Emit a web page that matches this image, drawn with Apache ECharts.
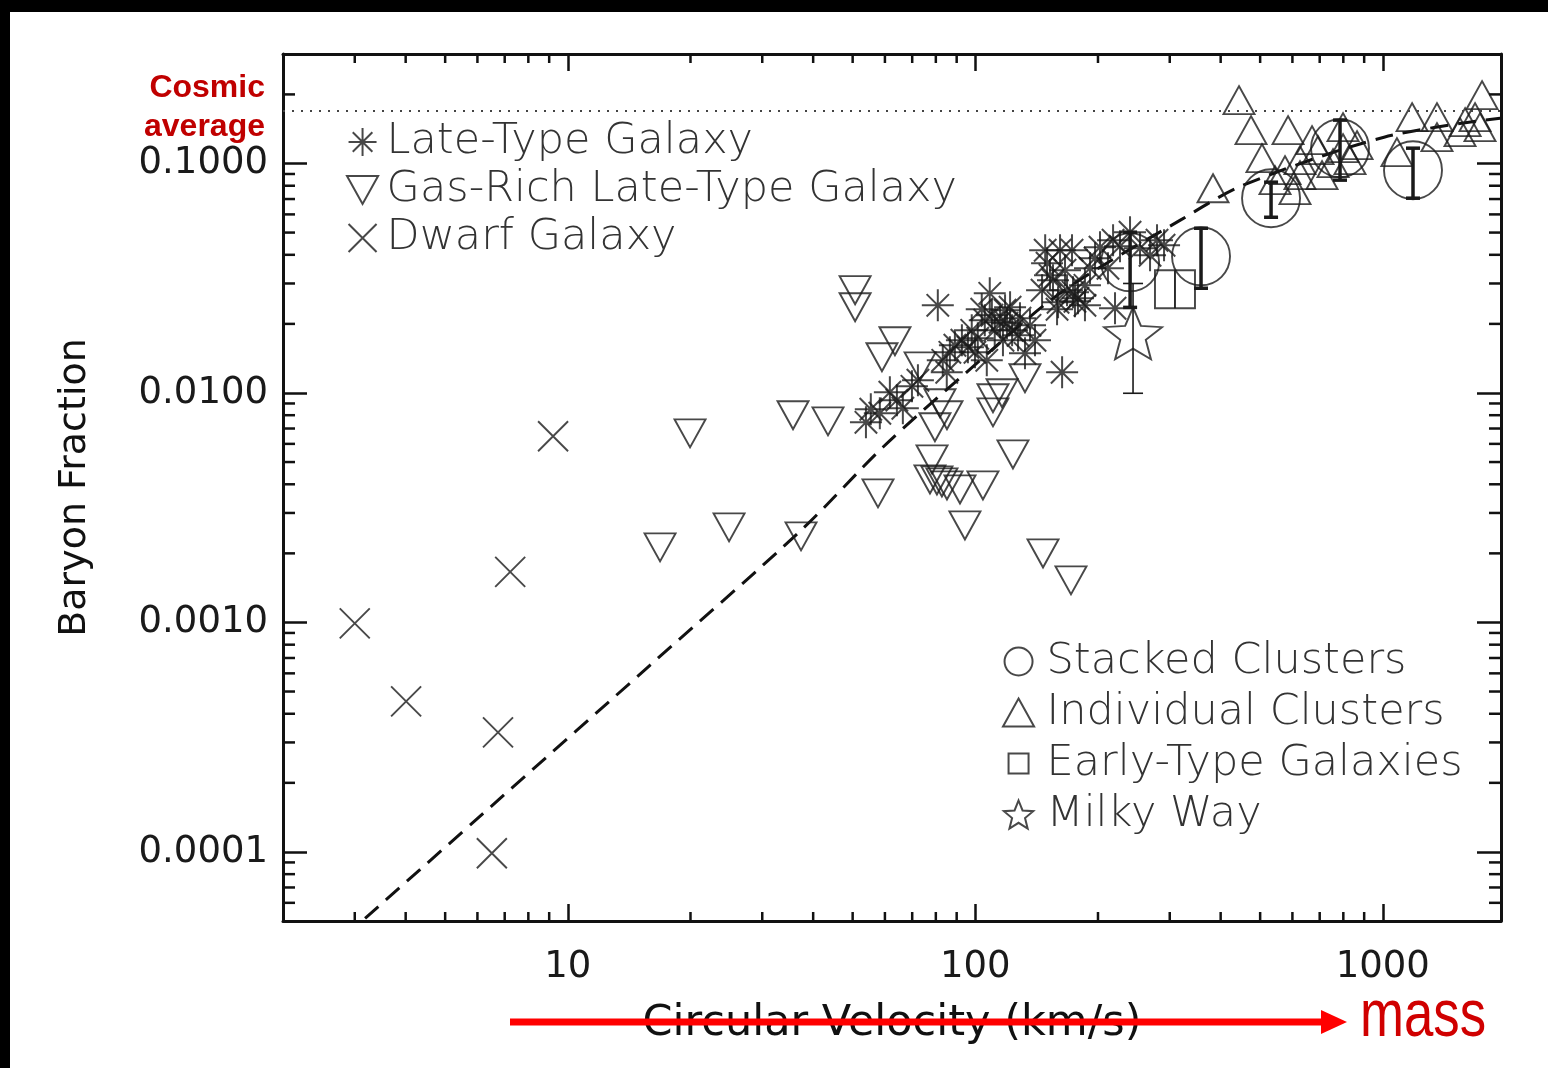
<!DOCTYPE html>
<html><head><meta charset="utf-8">
<script src="https://cdn.jsdelivr.net/npm/echarts@6/dist/echarts.min.js"></script>
<style>
html,body{margin:0;padding:0;background:#000;width:1548px;height:1068px;overflow:hidden}
#chart{position:absolute;left:10px;top:12px;width:1538px;height:1056px;background:#fff}
</style></head><body><div id="chart"></div>
<script>
// ---------- axis ranges & ticks ----------
const xRange = [2, 1950];
const yRange = [0.00005, 0.3];
const xMinorTicks = [3,4,5,6,7,8,9,20,30,40,50,60,70,80,90,200,300,400,500,600,700,800,900];
const yMinorTicks = [0.00006,0.00007,0.00008,0.00009,
  0.0002,0.0003,0.0004,0.0005,0.0006,0.0007,0.0008,0.0009,
  0.002,0.003,0.004,0.005,0.006,0.007,0.008,0.009,
  0.02,0.03,0.04,0.05,0.06,0.07,0.08,0.09,0.2];
const cosmicAverage = 0.175;

// ---------- data: [circular velocity (km/s), baryon fraction] ----------
const lateType = [
  [53.9,0.00745],[55.4,0.00849],[58.3,0.00816],[61.7,0.01007],[64.2,0.0093],[66.4,0.00858],
  [69.9,0.01069],[72.3,0.01136],[80.9,0.02409],[83.2,0.01388],[85.1,0.01231],[86.6,0.01504],
  [89.1,0.01614],[92.7,0.01697],[95.9,0.01582],[98.0,0.01875],[101.4,0.01731],[105.5,0.02074],
  [108.5,0.02718],[109.8,0.02181],[111.6,0.01875],[115.0,0.02033],[118.3,0.02293],[121.7,0.02363],
  [116.9,0.01697],[106.7,0.01388],[123.1,0.01875],[127.3,0.01783],[132.4,0.01489],[136.2,0.01972],
  [163.3,0.01231],[145.8,0.02802],[150.0,0.03675],[155.1,0.03098],[161.4,0.04187],[172.7,0.04187],
  [167.9,0.02802],[173.7,0.02746],[178.6,0.02585],[185.8,0.02409],[159.6,0.02483],[152.5,0.03257],
  [191.2,0.03495],[202.3,0.04315],[217.8,0.0463],[196.7,0.03864],[226.5,0.04358],[239.7,0.05017],
  [253.6,0.04272],[268.4,0.03982],[279.2,0.0463],[290.5,0.04402],[220.2,0.02339],[211.6,0.03495],
  [185.8,0.02946],[166.0,0.03425],[103.7,0.02316],[119.6,0.02012],[158.7,0.02316],[175.6,0.02508],
  [128.7,0.02117],[140.1,0.01697],[99.8,0.01504],[148.4,0.04187]
];
const gasRich = [
  [19.95,0.00667],[16.84,0.002125],[24.87,0.002597],[37.35,0.002373],[35.70,0.007995],[43.5,0.007526],
  [50.7,0.02804],[50.7,0.02363],[57.7,0.003654],[63.5,0.0168],[59.0,0.01431],[73.2,0.01307],
  [79.6,0.00709],[81.9,0.00902],[85.2,0.007995],[78.3,0.005134],[77.4,0.0042],[80.5,0.004158],
  [82.8,0.004076],[85.2,0.003956],[91.7,0.0038],[104.4,0.003956],[94.3,0.002647],[110.5,0.009482],
  [110.5,0.008237],[116.3,0.00997],[132.4,0.01159],[123.7,0.005398],[146.6,0.002],[171.7,0.001526]
];
const dwarf = [[3.0,0.00099],[4.01,0.000453],[6.74,0.000332],[6.51,0.0000987],[7.22,0.00166],[9.2,0.00648]];
// [velocity, fraction, lower, upper]
const stackedClusters = [
  [239.8,0.0371,0.0236,0.0502],[358,0.0394,0.0286,0.0522],[531.8,0.0706,0.0583,0.0829],
  [785.2,0.1166,0.0846,0.1545],[1186,0.0935,0.0706,0.1166]
];
const individualClusters = [
  [443.7,0.1888],[383.1,0.078],[474.9,0.1397],[505.2,0.1055],[543.8,0.0846],[585.4,0.1397],
  [575.4,0.0935],[608.8,0.0765],[626.3,0.1034],[670.3,0.1263],[693.4,0.1143],[709.3,0.0889],
  [754.8,0.1003],[798.6,0.144],[798.6,0.1166],[830.8,0.1034],[864.4,0.1202],[626.3,0.0889],
  [1083,0.112],[1180,0.1591],[1358,0.1591],[1358,0.1302],[1547,0.1369],[1592,0.1514],
  [1684,0.1591],[1752,0.1985],[1732,0.144]
];
const earlyType = [[309,0.0283,0.0234,0.0343]];
const milkyWay = [[243.8,0.0182,0.00997,0.03]];
const modelCurve = [
  [3.18,0.0000513],[6.82,0.000171],[15.9,0.00065],[37.35,0.00252],[59.3,0.0058],[93.3,0.01194],
  [161.4,0.0272],[321.6,0.0572],[454,0.0804],[1007,0.1302],[1940,0.1576]
];

// ---------- symbols ----------
const SYM_ASTERISK = 'path://M50,0L50,100M0,50L100,50M15,15L85,85M15,85L85,15';
const SYM_X = 'path://M0,0L100,100M0,100L100,0';
const SYM_DOWN = 'path://M0,0L100,0L50,90Z';
const SYM_UP = 'path://M50,0L100,90L0,90Z';
const SYM_SQUARE = 'path://M0,0L100,0L100,100L0,100Z';
const SYM_SQUARE_LEGEND = 'path://M-20,-20M120,120M0,0L100,0L100,100L0,100Z';
const SYM_STAR = 'path://M50,0L62.93,32.2L97.55,34.55L70.92,56.8L79.39,90.45L50,72L20.61,90.45L29.08,56.8L2.45,34.55L37.07,32.2Z';

const INK = '#1a1a1a';
const hollow = (w) => ({color:'transparent', borderColor:INK, borderWidth:w});

function errorBar(capHalf, width) {
  return function (params, api) {
    const x = api.value(0);
    const lo = api.coord([x, api.value(2)]);
    const hi = api.coord([x, api.value(3)]);
    const style = {stroke: INK, lineWidth: width};
    const ch = [{type:'line', shape:{x1:lo[0], y1:lo[1], x2:hi[0], y2:hi[1]}, style}];
    if (capHalf > 0) {
      ch.push({type:'line', shape:{x1:lo[0]-capHalf, y1:lo[1], x2:lo[0]+capHalf, y2:lo[1]}, style});
      ch.push({type:'line', shape:{x1:hi[0]-capHalf, y1:hi[1], x2:hi[0]+capHalf, y2:hi[1]}, style});
    }
    return {type:'group', children: ch};
  };
}

const tickStyle = {stroke:'#111', lineWidth:2.5};
const axisFont = 'DejaVu Sans';

const chart = echarts.init(document.getElementById('chart'), null, {renderer:'canvas'});
const axisLine = {show:true, onZero:false, lineStyle:{color:'#111', width:3}};

chart.setOption({
  animation: false,
  backgroundColor: '#fff',
  textStyle: {fontFamily: axisFont},
  grid: {left: 273, top: 42, right: 47, bottom: 147},
  legend: [
    {
      left: 336, top: 106, orient: 'vertical', padding: 0, itemGap: 0,
      itemWidth: 38, itemHeight: 28, selectedMode: false,
      textStyle: {fontFamily: axisFont, fontSize: 43, fontWeight: 200, color: '#333', lineHeight: 48},
      data: ['Late-Type Galaxy', 'Gas-Rich Late-Type Galaxy', 'Dwarf Galaxy']
    },
    {
      left: 992, top: 624, orient: 'vertical', padding: 0, itemGap: 0,
      itemWidth: 46, itemHeight: 28, selectedMode: false,
      textStyle: {fontFamily: axisFont, fontSize: 43, fontWeight: 200, color: '#333', lineHeight: 51},
      data: ['Stacked Clusters', 'Individual Clusters', {name:'Early-Type Galaxies', icon: SYM_SQUARE_LEGEND}, 'Milky Way']
    }
  ],
  xAxis: [
    {
      type: 'log', logBase: 10, min: xRange[0], max: xRange[1], position: 'bottom',
      axisLine, splitLine: {show:false},
      axisTick: {show:true, inside:true, length:17, lineStyle:{color:'#111', width:2.5}},
      axisLabel: {margin: 28, fontSize: 37, color: '#1a1a1a', fontFamily: axisFont,
        showMinLabel: false, showMaxLabel: false, formatter: v => String(Math.round(v))},
      name: 'Circular Velocity (km/s)', nameLocation: 'middle', nameGap: 81,
      nameTextStyle: {fontSize: 43, color: '#111', fontFamily: axisFont}
    },
    {
      type: 'log', logBase: 10, min: xRange[0], max: xRange[1], position: 'top',
      axisLine, splitLine: {show:false}, axisLabel: {show:false},
      axisTick: {show:true, inside:true, length:17, lineStyle:{color:'#111', width:2.5}}
    }
  ],
  yAxis: [
    {
      type: 'log', logBase: 10, min: yRange[0], max: yRange[1], position: 'left',
      axisLine, splitLine: {show:false},
      axisTick: {show:true, inside:true, length:24, lineStyle:{color:'#111', width:2.5}},
      axisLabel: {margin: 15, fontSize: 37, color: '#1a1a1a', fontFamily: axisFont, padding: [6, 0, 0, 0],
        showMinLabel: false, showMaxLabel: false, formatter: v => Number(v).toFixed(4)},
      name: 'Baryon Fraction', nameLocation: 'middle', nameGap: 189, nameRotate: 90,
      nameTextStyle: {fontSize: 38, color: '#111', fontFamily: axisFont}
    },
    {
      type: 'log', logBase: 10, min: yRange[0], max: yRange[1], position: 'right',
      axisLine, splitLine: {show:false}, axisLabel: {show:false},
      axisTick: {show:true, inside:true, length:24, lineStyle:{color:'#111', width:2.5}}
    }
  ],
  series: [
    {
      name: 'x minor ticks', type: 'custom', silent: true, z: 1,
      data: xMinorTicks.map(v => [v, yRange[0]]),
      encode: {x: 0, y: 1},
      renderItem: (params, api) => {
        const cs = params.coordSys;
        const px = api.coord([api.value(0), api.value(1)])[0];
        return {type:'group', children:[
          {type:'line', shape:{x1:px, y1:cs.y+cs.height, x2:px, y2:cs.y+cs.height-9}, style:tickStyle},
          {type:'line', shape:{x1:px, y1:cs.y, x2:px, y2:cs.y+9}, style:tickStyle}
        ]};
      }
    },
    {
      name: 'y minor ticks', type: 'custom', silent: true, z: 1,
      data: yMinorTicks.map(v => [xRange[0], v]),
      encode: {x: 0, y: 1},
      renderItem: (params, api) => {
        const cs = params.coordSys;
        const py = api.coord([api.value(0), api.value(1)])[1];
        return {type:'group', children:[
          {type:'line', shape:{x1:cs.x, y1:py, x2:cs.x+12, y2:py}, style:tickStyle},
          {type:'line', shape:{x1:cs.x+cs.width, y1:py, x2:cs.x+cs.width-12, y2:py}, style:tickStyle}
        ]};
      }
    },
    {
      name: 'Model', type: 'line', data: modelCurve, smooth: 0.3, symbol: 'none', silent: true, z: 2,
      lineStyle: {color: '#111', width: 3, type: [18, 10]},
      markLine: {
        silent: true, symbol: ['none', 'none'],
        lineStyle: {color: '#444', width: 2, type: [2, 7]},
        label: {show: true, position: 'start', distance: 18, formatter: 'Cosmic\naverage',
          color: '#c00000', fontWeight: 'bold', fontSize: 32, lineHeight: 39, fontFamily: 'Liberation Sans',
          offset: [0, -3]},
        data: [{yAxis: cosmicAverage}]
      }
    },
    {
      name: 'Late-Type Galaxy', type: 'scatter', data: lateType, symbol: SYM_ASTERISK, symbolSize: 32,
      itemStyle: hollow(2), emphasis: {disabled: true}, z: 3
    },
    {
      name: 'Gas-Rich Late-Type Galaxy', type: 'scatter', data: gasRich, symbol: SYM_DOWN, symbolSize: [31, 28],
      itemStyle: hollow(1.9), emphasis: {disabled: true}, z: 3
    },
    {
      name: 'Dwarf Galaxy', type: 'scatter', data: dwarf, symbol: SYM_X, symbolSize: 30,
      itemStyle: hollow(1.9), emphasis: {disabled: true}, z: 3
    },
    {
      name: 'Stacked Clusters', type: 'scatter', data: stackedClusters, symbol: 'circle', symbolSize: 58,
      itemStyle: hollow(1.9), emphasis: {disabled: true}, z: 3
    },
    {
      name: 'Stacked Clusters err', type: 'custom', data: stackedClusters, encode: {x: 0, y: [2, 3]},
      renderItem: errorBar(7, 3.5), silent: true, z: 4
    },
    {
      name: 'Individual Clusters', type: 'scatter', data: individualClusters, symbol: SYM_UP, symbolSize: [31, 28],
      itemStyle: hollow(1.9), emphasis: {disabled: true}, z: 3
    },
    {
      name: 'Early-Type Galaxies', type: 'scatter', data: earlyType, symbol: SYM_SQUARE, symbolSize: [40, 38],
      itemStyle: hollow(1.9), emphasis: {disabled: true}, z: 3
    },
    {
      name: 'Early-Type err', type: 'custom', data: earlyType, encode: {x: 0, y: [2, 3]},
      renderItem: errorBar(0, 1.8), silent: true, z: 4
    },
    {
      name: 'Milky Way', type: 'scatter', data: milkyWay, symbol: SYM_STAR, symbolSize: [58, 52],
      itemStyle: hollow(1.9), emphasis: {disabled: true}, z: 3
    },
    {
      name: 'Milky Way err', type: 'custom', data: milkyWay, encode: {x: 0, y: [2, 3]},
      renderItem: errorBar(10, 1.6), silent: true, z: 4
    }
  ],
  graphic: [
    {type: 'line', z: 100, shape: {x1: 500, y1: 1010, x2: 1316, y2: 1010}, style: {stroke: '#ff0000', lineWidth: 7}},
    {type: 'polygon', z: 100, shape: {points: [[1311, 998], [1337, 1010], [1311, 1022]]}, style: {fill: '#ff0000'}},
    {type: 'text', z: 100, x: 1350, y: 1006, scaleX: 0.8,
      style: {text: 'mass', fill: '#d00000', fontSize: 66, fontFamily: 'Liberation Sans',
        textAlign: 'left', textVerticalAlign: 'middle'}}
  ]
});
</script></body></html>
